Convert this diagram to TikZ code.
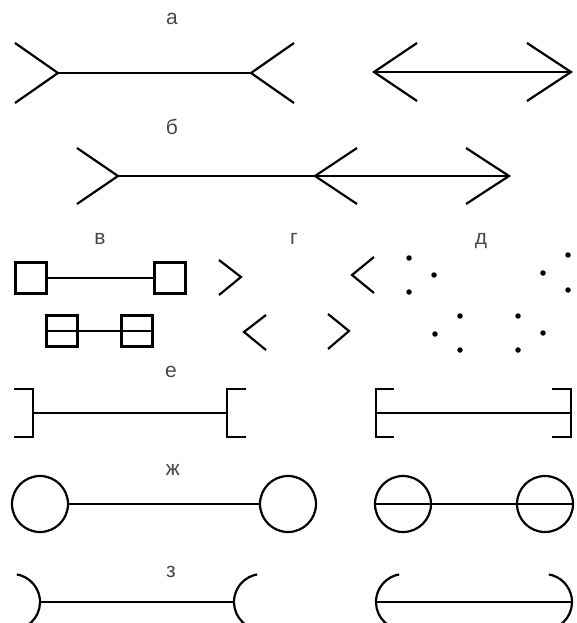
\documentclass[tikz,border=0pt]{standalone}
\usepackage{fontspec}
\setmainfont{Liberation Sans}
\begin{document}
\begin{tikzpicture}[x=1pt,y=-1pt,line width=2.2pt]
			\tikzstyle{lettertag}=[anchor=base, inner sep=0pt, text=black!72, font=\fontsize{21}{21}\selectfont]
			\tikzstyle{dot}=[circle, fill=black, inner sep=0pt, minimum size=5.5pt]
			\tikzstyle{sq}=[draw, line width=2.6pt, minimum size=31pt, inner sep=0pt]
			\def\R{28}
			\useasboundingbox (0,0) rectangle (576,623);
			\clip (0,0) rectangle (576,623);
			% labels
			\node[lettertag] (ta) at (172,25) {а};
			\node[lettertag] (tb) at (172,135) {б};
			\node[lettertag] (tv) at (100,244) {в};
			\node[lettertag] (tg) at (294,244) {г};
			\node[lettertag] (td) at (481,244) {д};
			\node[lettertag] (te) at (171,377) {е};
			\node[lettertag] (tzh) at (173,475) {ж};
			\node[lettertag] (tz) at (171,577) {з};
			% a
			\coordinate (A1) at (58,73);
			\coordinate (A2) at (251,73);
			\coordinate (A3) at (374,72);
			\coordinate (A4) at (571,72);
			\draw (A1) ++(-43,-30) -- (A1) -- ++(-43,30);
			\draw (A2) ++(43,-30) -- (A2) -- ++(43,30);
			\draw (A1) -- (A2);
			\draw (A3) ++(43,-29) -- (A3) -- ++(43,29);
			\draw (A4) ++(-44,-29) -- (A4) -- ++(-44,29);
			\draw (A3) -- (A4);
			% b
			\coordinate (B1) at (118,176);
			\coordinate (B2) at (315,176);
			\coordinate (B3) at (509,176);
			\draw (B1) ++(-41,-28) -- (B1) -- ++(-41,28);
			\draw (B2) ++(42,-28) -- (B2) -- ++(42,28);
			\draw (B3) ++(-43,-28) -- (B3) -- ++(-43,28);
			\draw (B1) -- (B3);
			% v
			\node[sq] (V1) at (31,278) {};
			\node[sq] (V2) at (170,278) {};
			\draw (V1) -- (V2);
			\node[sq] (V3) at (62,331) {};
			\node[sq] (V4) at (137,331) {};
			\draw[line width=2.6pt] (V3.west) -- (V4.east);
			% g
			\draw (219,260) -- (241,277) -- (219,295);
			\draw (374,257) -- (352,275) -- (374,293);
			\draw (266,315) -- (244,332) -- (266,350);
			\draw (328,314) -- (349,331) -- (328,349);
			% d
			\foreach \p in {(409,258),(434,275),(409,292),(568,255),(543,273),(568,290),
				(460,316),(435,334),(460,350),(518,316),(543,333),(518,350)}
				\node[dot] at \p {};
			% e
			\coordinate (E1) at (33,413);
			\coordinate (E2) at (227,413);
			\coordinate (E3) at (376,413);
			\coordinate (E4) at (571,413);
			\draw (E1) ++(-19,-24) -- ++(19,0) -- ++(0,48) -- ++(-19,0);
			\draw (E2) ++(19,-24) -- ++(-19,0) -- ++(0,48) -- ++(19,0);
			\draw (E1) -- (E2);
			\draw (E3) ++(18,-24) -- ++(-18,0) -- ++(0,48) -- ++(18,0);
			\draw (E4) ++(-19,-24) -- ++(19,0) -- ++(0,48) -- ++(-19,0);
			\draw (E3) -- (E4);
			% zh
			\coordinate (Z1) at (40,504);
			\coordinate (Z2) at (288,504);
			\coordinate (Z3) at (403,504);
			\coordinate (Z4) at (545,504);
			\draw (Z1) circle (\R);
			\draw (Z2) circle (\R);
			\draw ([xshift=\R pt]Z1) -- ([xshift=-\R pt]Z2);
			\draw (Z3) circle (\R);
			\draw (Z4) circle (\R);
			\draw ([xshift=-\R pt]Z3) -- ([xshift=\R pt]Z4);
			% z
			\coordinate (H1) at (40,602);
			\coordinate (H2) at (234,602);
			\coordinate (H3) at (376,602);
			\coordinate (H4) at (572,602);
			\draw ([xshift=-\R pt]H1) ++(80:\R) arc (80:-80:\R);
			\draw ([xshift=\R pt]H2) ++(100:\R) arc (100:260:\R);
			\draw (H1) -- (H2);
			\draw ([xshift=\R pt]H3) ++(100:\R) arc (100:260:\R);
			\draw ([xshift=-\R pt]H4) ++(80:\R) arc (80:-80:\R);
			\draw (H3) -- (H4);
		\end{tikzpicture}
\end{document}
